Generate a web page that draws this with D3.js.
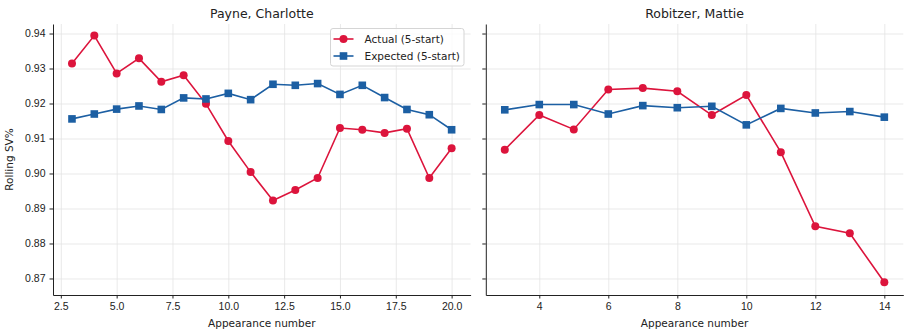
<!DOCTYPE html>
<html>
<head>
<meta charset="utf-8">
<script src="https://cdn.jsdelivr.net/npm/d3@7"></script>
<style>
  body { margin: 0; background: #fff; }
  svg { font-family: "DejaVu Sans", sans-serif; }
  .grid line { stroke: #e3e3e3; stroke-width: 0.8; }
  .grid path { display: none; }
  .axis path, .axis line { stroke: #222; }
  .axis text { fill: #222; font-size: 10.5px; }
</style>
</head>
<body>
<div id="plot"></div>
<script>
const FRAME_WIDTH = 912;
const FRAME_HEIGHT = 331;

const payneX = [3, 4, 5, 6, 7, 8, 9, 10, 11, 12, 13, 14, 15, 16, 17, 18, 19, 20];
const payneActual = [0.9314, 0.9394, 0.9286, 0.9329, 0.9262, 0.9281, 0.9199, 0.9093, 0.9004,
                     0.8923, 0.8953, 0.8987, 0.9130, 0.9125, 0.9116, 0.9128, 0.8987, 0.9072];
const payneExpected = [0.9156, 0.9170, 0.9184, 0.9193, 0.9183, 0.9216, 0.9213, 0.9229, 0.9211,
                       0.9255, 0.9252, 0.9257, 0.9226, 0.9252, 0.9217, 0.9183, 0.9168, 0.9125];

const robX = [3, 4, 5, 6, 7, 8, 9, 10, 11, 12, 13, 14];
const robActual = [0.9068, 0.9167, 0.9126, 0.9240, 0.9244, 0.9235, 0.9167, 0.9224,
                   0.9061, 0.8849, 0.8829, 0.8689];
const robExpected = [0.9182, 0.9197, 0.9197, 0.9170, 0.9194, 0.9188, 0.9192, 0.9139,
                     0.9186, 0.9173, 0.9177, 0.9161];

const yTicks = [0.87, 0.88, 0.89, 0.90, 0.91, 0.92, 0.93, 0.94];
const payneXTicks = [2.5, 5.0, 7.5, 10.0, 12.5, 15.0, 17.5, 20.0];
const robXTicks = [4, 6, 8, 10, 12, 14];

const seriesNames = ["Actual (5-start)", "Expected (5-start)"];
const RED = "#dc143c";
const BLUE = "#1c5fa3";

const TOP = 24, BOTTOM = 295;

const Y_SCALE = d3.scaleLinear().domain([0.86528, 0.94272]).range([BOTTOM, TOP]);

const svg = d3.select("#plot").append("svg")
    .attr("width", FRAME_WIDTH)
    .attr("height", FRAME_HEIGHT);

const panels = [
  {title: "Payne, Charlotte", xs: payneX, actual: payneActual, expected: payneExpected,
   left: 53, right: 470.6, domain: [2.15, 20.85], ticks: payneXTicks, fmt: d3.format(".1f"),
   yLabels: true, legend: true},
  {title: "Robitzer, Mattie", xs: robX, actual: robActual, expected: robExpected,
   left: 485.8, right: 903.3, domain: [2.45, 14.55], ticks: robXTicks, fmt: d3.format("d"),
   yLabels: false, legend: false}
];

panels.forEach(p => {
  const x = d3.scaleLinear().domain(p.domain).range([p.left, p.right]);
  const g = svg.append("g");

  // grid
  g.append("g").attr("class", "grid")
      .attr("transform", "translate(0," + BOTTOM + ")")
      .call(d3.axisBottom(x).tickValues(p.ticks).tickSize(-(BOTTOM - TOP)).tickFormat(""));
  g.append("g").attr("class", "grid")
      .attr("transform", "translate(" + p.left + ",0)")
      .call(d3.axisLeft(Y_SCALE).tickValues(yTicks).tickSize(-(p.right - p.left)).tickFormat(""));

  // axes
  g.append("g").attr("class", "axis")
      .attr("transform", "translate(0," + BOTTOM + ")")
      .call(d3.axisBottom(x).tickValues(p.ticks).tickFormat(p.fmt).tickSize(3.5).tickSizeOuter(0).tickPadding(4));
  g.append("g").attr("class", "axis")
      .attr("transform", "translate(" + p.left + ",0)")
      .call(d3.axisLeft(Y_SCALE).tickValues(yTicks)
        .tickFormat(p.yLabels ? d3.format(".2f") : "").tickSize(3.5).tickSizeOuter(0).tickPadding(4));

  // titles
  g.append("text")
      .attr("x", (p.left + p.right) / 2).attr("y", 18)
      .attr("text-anchor", "middle").attr("font-size", "12.5px").attr("fill", "#222")
      .text(p.title);
  g.append("text")
      .attr("x", (p.left + p.right) / 2).attr("y", 327)
      .attr("text-anchor", "middle").attr("font-size", "10.5px").attr("fill", "#222")
      .text("Appearance number");

  const line = d3.line().x(d => x(d[0])).y(d => Y_SCALE(d[1]));

  const act = p.xs.map((v, i) => [v, p.actual[i]]);
  const exp = p.xs.map((v, i) => [v, p.expected[i]]);

  g.append("path").datum(act).attr("d", line)
      .attr("fill", "none").attr("stroke", RED).attr("stroke-width", 1.6);
  g.selectAll(".pt").data(act).enter().append("circle")
      .attr("cx", d => x(d[0])).attr("cy", d => Y_SCALE(d[1])).attr("r", 4)
      .attr("fill", RED);

  g.append("path").datum(exp).attr("d", line)
      .attr("fill", "none").attr("stroke", BLUE).attr("stroke-width", 1.6);
  g.selectAll(".sq").data(exp).enter().append("rect")
      .attr("x", d => x(d[0]) - 3.8).attr("y", d => Y_SCALE(d[1]) - 3.8)
      .attr("width", 7.6).attr("height", 7.6)
      .attr("fill", BLUE);

  if (p.legend) {
    const lg = g.append("g").attr("transform", "translate(330.5,28.5)");
    lg.append("rect").attr("width", 133.5).attr("height", 37.5).attr("rx", 2.5)
        .attr("fill", "#fff").attr("fill-opacity", 0.8).attr("stroke", "#d5d5d5");
    seriesNames.forEach((name, i) => {
      const yy = 10.5 + i * 17;
      const c = i === 0 ? RED : BLUE;
      lg.append("line").attr("x1", 3).attr("x2", 23).attr("y1", yy).attr("y2", yy)
          .attr("stroke", c).attr("stroke-width", 1.6);
      if (i === 0) {
        lg.append("circle").attr("cx", 13).attr("cy", yy).attr("r", 4).attr("fill", c);
      } else {
        lg.append("rect").attr("x", 9.2).attr("y", yy - 3.8).attr("width", 7.6).attr("height", 7.6).attr("fill", c);
      }
      lg.append("text").attr("x", 34).attr("y", yy + 4).attr("font-size", "10.5px")
          .attr("fill", "#222").text(name);
    });
  }
});

svg.append("text")
    .attr("transform", "translate(13," + (TOP + BOTTOM) / 2 + ") rotate(-90)")
    .attr("text-anchor", "middle").attr("font-size", "10.5px").attr("fill", "#222")
    .text("Rolling SV%");
</script>
</body>
</html>
